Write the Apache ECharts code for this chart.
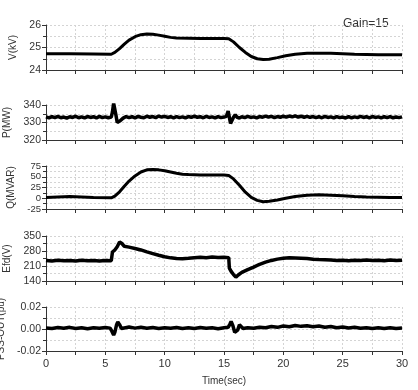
<!DOCTYPE html>
<html><head><meta charset="utf-8">
<script src="https://cdn.jsdelivr.net/npm/echarts@6/dist/echarts.min.js"></script>
<style>html,body{margin:0;padding:0;background:#fff}#c{width:418px;height:390px}</style>
</head><body><div id="c"></div>
<script>
const panelNames = ['V(kV)', 'P(MW)', 'Q(MVAR)', 'Efd(V)', 'PSS-OUT(pu)'];
const yMins = [24, 320, -25, 140, -0.02];
const yMaxs = [26, 340, 75, 350, 0.02];
const yIntervals = [1, 10, 25, 70, 0.02];
const xTicks = [0, 5, 10, 15, 20, 25, 30];
const annotation = 'Gain=15';

const vData = [[0,24.72],[2,24.72],[4,24.71],[5.5,24.7],[5.8,24.78],[6.2,24.95],[6.6,25.15],[7,25.33],[7.5,25.48],[8,25.57],[8.5,25.6],[9,25.59],[9.5,25.55],[10,25.5],[10.5,25.45],[11,25.42],[12,25.41],[13,25.4],[14,25.4],[15,25.4],[15.4,25.39],[15.8,25.25],[16.3,25.0],[16.8,24.78],[17.3,24.6],[17.8,24.5],[18.3,24.47],[18.8,24.48],[19.5,24.55],[20.2,24.63],[21,24.7],[22,24.74],[23,24.75],[24,24.74],[25,24.72],[26,24.7],[27,24.69],[28,24.68],[29,24.68],[30,24.68]];

const pData = [[0,333.2],[0.25,332.6],[0.5,333.4],[0.75,332.8],[1,333.5],[1.25,332.7],[1.5,333.1],[1.75,332.5],[2,333.3],[2.25,332.9],[2.5,333.6],[2.75,332.7],[3,333.2],[3.25,332.6],[3.5,333.4],[3.75,332.9],[4,333.3],[4.25,332.6],[4.5,333.5],[4.75,332.8],[5,333.2],[5.25,332.7],[5.5,333.1],[5.6,336],[5.7,341],[5.8,340],[5.9,334],[6.0,330],[6.1,329.5],[6.25,331],[6.5,332.5],[6.75,333.4],[7,332.8],[7.25,333.3],[7.5,332.6],[7.75,333.5],[8,333],[8.25,332.7],[8.5,333.6],[8.75,333],[9,333.4],[9.25,332.8],[9.5,333.7],[9.75,333.1],[10,333.5],[10.25,332.9],[10.5,333.3],[10.75,332.7],[11,333.4],[11.25,332.8],[11.5,333.2],[11.75,332.6],[12,333.4],[12.25,332.9],[12.5,333.6],[12.75,333],[13,333.3],[13.25,332.7],[13.5,333.5],[13.75,332.9],[14,333.2],[14.25,332.6],[14.5,333.4],[14.75,332.8],[15,333.1],[15.2,333.5],[15.35,336.5],[15.45,335.5],[15.55,329.5],[15.65,328.5],[15.8,333],[15.95,334.5],[16.1,333],[16.3,332.6],[16.5,333.3],[16.75,332.8],[17,333.5],[17.25,332.9],[17.5,333.2],[17.75,332.6],[18,333.4],[18.25,333],[18.5,333.7],[18.75,333.1],[19,333.5],[19.25,332.8],[19.5,333.4],[19.75,333],[20,333.6],[20.25,333.1],[20.5,333.7],[20.75,333.2],[21,333.8],[21.25,333.1],[21.5,333.6],[21.75,333],[22,333.5],[22.25,332.9],[22.5,333.4],[22.75,332.8],[23,333.3],[23.25,332.7],[23.5,333.5],[23.75,332.9],[24,333.2],[24.25,332.6],[24.5,333.4],[24.75,332.8],[25,333.1],[25.25,332.6],[25.5,333.3],[25.75,332.7],[26,333.2],[26.25,332.8],[26.5,333.5],[26.75,332.9],[27,333.3],[27.25,332.7],[27.5,333.4],[27.75,332.9],[28,333.2],[28.25,332.6],[28.5,333.3],[28.75,332.8],[29,333.4],[29.25,332.7],[29.5,333.1],[29.75,332.8],[30,333.2]];

const qData = [[0,2],[1,3],[2,4],[3,3],[4,2],[5.5,1],[5.8,5],[6.2,15],[6.6,28],[7,40],[7.5,52],[8,61],[8.5,66],[9,67],[9.5,66],[10,64],[10.5,61],[11,58],[11.5,56],[12,55],[13,54],[14,54],[15,54],[15.4,53],[15.8,45],[16.3,30],[16.8,14],[17.3,2],[17.8,-5],[18.3,-8],[18.8,-7],[19.5,-4],[20.2,0],[21,4],[22,7],[23,8],[24,7],[25,6],[26,4],[27,3],[28,2.5],[29,2],[30,2]];

const efdData = [[0,236],[0.5,233],[1,237],[1.5,234],[2,236],[2.5,233],[3,237],[3.5,234],[4,236],[4.5,233],[5,236],[5.5,235],[5.6,275],[5.8,285],[6.0,300],[6.2,322],[6.4,315],[6.6,302],[7,298],[7.5,292],[8,285],[8.5,276],[9,268],[9.5,260],[10,253],[10.5,248],[11,245],[11.5,244],[12,246],[12.5,249],[13,251],[13.5,249],[14,252],[14.5,250],[15,251],[15.4,249],[15.45,200],[15.6,185],[15.8,170],[16.0,158],[16.2,168],[16.5,180],[17,193],[17.5,205],[18,218],[18.5,228],[19,236],[19.5,242],[20,246],[20.5,248],[21,247],[21.5,246],[22,245],[22.5,242],[23,240],[23.5,239],[24,238],[24.5,236],[25,237],[25.5,235],[26,237],[26.5,236],[27,238],[27.5,236],[28,237],[28.5,235],[29,238],[29.5,236],[30,237]];

const pssData = [[0,0.001],[0.5,0.0004],[1,0.0013],[1.5,0.0006],[2,0.0015],[2.5,0.0005],[3,0.0012],[3.5,0.0003],[4,0.0011],[4.5,0.0006],[5,0.0014],[5.4,0.0008],[5.55,-0.002],[5.7,-0.0055],[5.8,-0.003],[5.95,0.004],[6.05,0.0065],[6.2,0.004],[6.35,0.0005],[6.5,0.0001],[6.7,0.0012],[7,0.0018],[7.5,0.0008],[8,0.0016],[8.5,0.0007],[9,0.0013],[9.5,0.0004],[10,0.0011],[10.5,0.0006],[11,0.0014],[11.5,0.0005],[12,0.0012],[12.5,0.0004],[13,0.0013],[13.5,0.0006],[14,0.0011],[14.5,0.0003],[15,0.0012],[15.35,0.0015],[15.5,0.0045],[15.6,0.0068],[15.75,0.003],[15.9,-0.003],[16.0,-0.0048],[16.15,-0.001],[16.3,0.0038],[16.45,0.002],[16.6,0.0004],[17,0.0012],[17.5,0.0006],[18,0.0016],[18.5,0.0012],[19,0.0022],[19.5,0.0015],[20,0.0027],[20.5,0.002],[21,0.0032],[21.5,0.0024],[22,0.003],[22.5,0.0021],[23,0.0027],[23.5,0.0016],[24,0.0022],[24.5,0.0012],[25,0.0018],[25.5,0.0009],[26,0.0015],[26.5,0.0006],[27,0.0012],[27.5,0.0005],[28,0.0011],[28.5,0.0004],[29,0.0012],[29.5,0.0005],[30,0.001]];

const seriesData = [vData, pData, qData, efdData, pssData];

const FONT = 'Liberation Sans, Arial, sans-serif';
const gridTops = [25, 105, 166, 236, 307];
const gridHeights = [45, 35, 43, 45, 44];
const gridLine = {show: true, lineStyle: {color: '#d4d4d4', type: [2, 2], width: 1}};

const grids = [], xAxes = [], yAxes = [], series = [];
for (let i = 0; i < 5; i++) {
  grids.push({left: 46, right: 16, top: gridTops[i], height: gridHeights[i],
    containLabel: false, outerBoundsMode: 'none'});
  const last = i === 4;
  xAxes.push({
    type: 'value', gridIndex: i, min: 0, max: 30, interval: 5,
    axisLine: {show: true, onZero: false, lineStyle: {color: '#333', width: 1}},
    axisTick: {show: true, length: 4, lineStyle: {color: '#333'}},
    minorTick: {show: true, splitNumber: 2, length: 4, lineStyle: {color: '#333'}},
    splitLine: gridLine, minorSplitLine: gridLine,
    axisLabel: {show: last, color: '#333', fontSize: 11, fontFamily: FONT, margin: 7,
      hideOverlap: false, showMinLabel: true, showMaxLabel: true},
    name: last ? 'Time(sec)' : '', nameLocation: 'middle', nameGap: 25,
    nameTextStyle: {color: '#333', fontSize: 10, fontFamily: FONT}
  });
  yAxes.push({
    type: 'value', gridIndex: i, min: yMins[i], max: yMaxs[i], interval: yIntervals[i],
    axisLine: {show: true, onZero: false, lineStyle: {color: '#333', width: 1}},
    axisTick: {show: true, length: 4, lineStyle: {color: '#333'}},
    minorTick: {show: true, splitNumber: 2, length: 3, lineStyle: {color: '#333'}},
    splitLine: gridLine, minorSplitLine: gridLine,
    axisLabel: {color: '#333', fontSize: i === 2 ? 9.5 : 10.5, fontFamily: FONT, margin: 5,
      hideOverlap: false, showMinLabel: true, showMaxLabel: true,
      formatter: i === 4 ? (v => v.toFixed(2)) : undefined},
    name: panelNames[i], nameLocation: 'middle', nameRotate: 90,
    nameGap: 27,
    nameTextStyle: {color: '#333', fontSize: 10, fontFamily: FONT}
  });
  series.push({
    type: 'line', xAxisIndex: i, yAxisIndex: i, data: seriesData[i],
    showSymbol: false, animation: false,
    lineStyle: {color: '#000', width: (i === 0 || i === 2) ? 3 : 3.5}
  });
}

const chart = echarts.init(document.getElementById('c'));
chart.setOption({
  animation: false,
  backgroundColor: '#fff',
  grid: grids, xAxis: xAxes, yAxis: yAxes, series: series,
  graphic: [{type: 'text', left: 343, top: 18,
    style: {text: annotation, fill: '#333', font: '12px ' + FONT}}]
});
</script>
</body></html>
